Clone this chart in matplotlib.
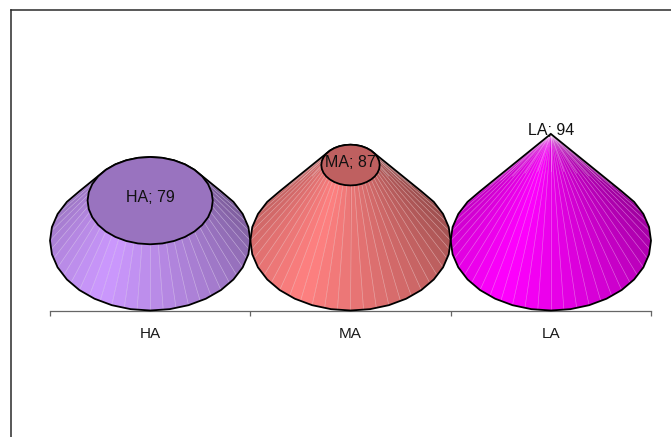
import numpy as np
import matplotlib
matplotlib.use('Agg')
import matplotlib.pyplot as plt
from matplotlib.colors import to_rgb
from matplotlib.lines import Line2D
from matplotlib.patches import Polygon

categories = ['HA', 'MA', 'LA']
values = [79, 87, 94]
colors = ['#CC99FF', '#FF8080', '#FF00FF']
base_value = 70   # hidden value axis starts here
top_value = 94    # tip of a full cone

plt.rcParams['font.family'] = ['Liberation Sans', 'DejaVu Sans']

W, H = 671, 437
fig = plt.figure(figsize=(W / 100, H / 100), dpi=100)
ax = fig.add_axes([50 / W, (H - 310.5) / H, 601 / W, 210.5 / H])

px_per_value = 4.458
ry = 70 / px_per_value   # depth of the base ellipse in value units
rx = 0.5
ax.set_xlim(-0.5, 2.5)
ax.set_ylim(base_value - ry, base_value + 141 / px_per_value)


def hull(points):
    pts = sorted(map(tuple, points))
    def half(seq):
        out = []
        for p in seq:
            while len(out) > 1 and ((out[-1][0] - out[-2][0]) * (p[1] - out[-2][1])
                                    - (out[-1][1] - out[-2][1]) * (p[0] - out[-2][0])) <= 0:
                out.pop()
            out.append(p)
        return out[:-1]
    return half(pts) + half(pts[::-1])


def shade(theta):
    # brightest at the front left, falling off around the cone
    d = np.abs((theta - np.radians(-120) + np.pi) % (2 * np.pi) - np.pi)
    return 1 - 0.5 * d / np.pi


n_facets = 48
n_outline = 32
angles = np.linspace(0, 2 * np.pi, n_facets + 1)
coarse = np.linspace(0, 2 * np.pi, n_outline, endpoint=False)
for i, (v, c) in enumerate(zip(values, colors)):
    rgb = np.array(to_rgb(c))
    frac = (top_value - v) / (top_value - base_value)
    bx = i + rx * np.cos(angles)
    by = base_value + ry * np.sin(angles)
    tx = i + frac * rx * np.cos(angles)
    ty = v + frac * ry * np.sin(angles)

    cap = np.c_[i + frac * rx * np.cos(coarse), v + frac * ry * np.sin(coarse)]
    rim = np.c_[i + rx * np.cos(coarse), base_value + ry * np.sin(coarse)]
    outline = hull(np.r_[rim, cap])
    back = Polygon(outline, closed=True, fc=rgb * 0.8, ec='none', zorder=1, clip_on=False)
    ax.add_patch(back)

    order = np.argsort(-np.sin(angles[:-1]))
    for k in order:
        mid = (angles[k] + angles[k + 1]) / 2
        quad = Polygon([(bx[k], by[k]), (bx[k + 1], by[k + 1]), (tx[k + 1], ty[k + 1]), (tx[k], ty[k])],
                       closed=True, fc=rgb * shade(mid), ec='none', zorder=2)
        ax.add_patch(quad)
        quad.set_clip_path(back)
        seam = Line2D([bx[k], tx[k]], [by[k], ty[k]], color='white', alpha=0.4, lw=0.45, zorder=3)
        ax.add_line(seam)
        seam.set_clip_path(back)

    ax.add_patch(Polygon(outline, closed=True, fc='none', ec='black', lw=1.3, zorder=4, clip_on=False))
    if frac > 0:
        ax.add_patch(Polygon(cap, closed=True, fc=rgb * 0.75, ec='black', lw=1.3, zorder=5, clip_on=False))
    ax.text(i, v + (0.6 if frac > 0 else 0.7), '%s; %d' % (categories[i], v), ha='center', va='center',
            fontsize=11.5, color='#111111', zorder=6)

for s in ['top', 'left', 'right']:
    ax.spines[s].set_visible(False)
ax.spines['bottom'].set_color('#666666')
ax.spines['bottom'].set_linewidth(0.9)
ax.set_yticks([])
ax.set_xticks([-0.5, 0.5, 1.5, 2.5])
ax.set_xticklabels([])
ax.tick_params(axis='x', which='major', length=3.5, width=0.9, color='#666666')
ax.set_xticks([0, 1, 2], minor=True)
ax.set_xticklabels(categories, minor=True, fontsize=11, color='#1a1a1a')
ax.tick_params(axis='x', which='minor', length=0, pad=12)
ax.patch.set_alpha(0)

# outer chart frame, right and bottom fall outside the picture
fig.add_artist(Line2D([10.5 / W, 10.5 / W], [0, 1 - 9.5 / H], color='#2a2a2a', lw=1.1))
fig.add_artist(Line2D([10.5 / W, 1], [1 - 9.5 / H, 1 - 9.5 / H], color='#2a2a2a', lw=1.1))

plt.savefig('out.png', dpi=100)
